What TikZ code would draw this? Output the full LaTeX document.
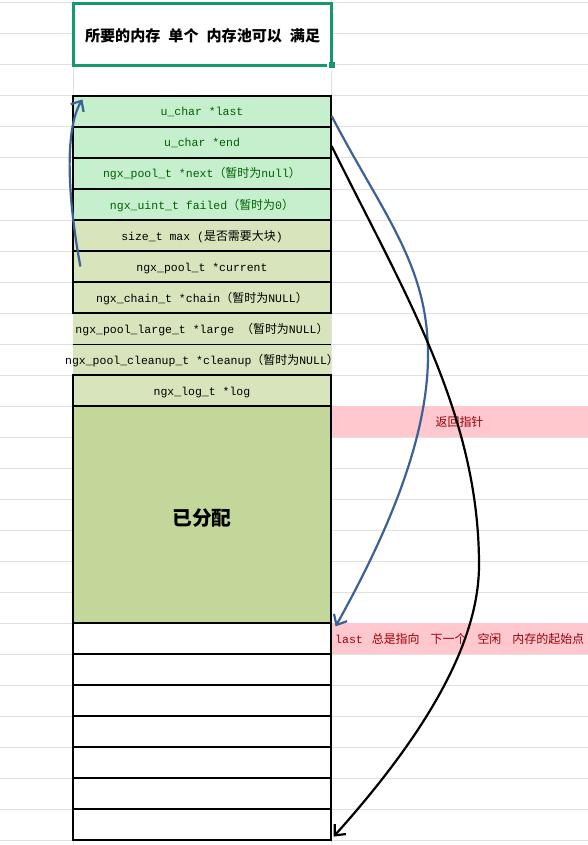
\documentclass[tikz,border=0pt]{standalone}
\usepackage{fontspec}
\setmainfont{Liberation Mono}
\newfontfamily\cjk[Scale=1.04]{Noto Sans CJK SC}
\usetikzlibrary{arrows.meta}
\definecolor{gridc}{RGB}{225,225,225}
\definecolor{goodbg}{RGB}{198,239,206}
\definecolor{goodfg}{RGB}{0,97,0}
\definecolor{olivebg}{RGB}{216,228,188}
\definecolor{allocbg}{RGB}{196,215,155}
\definecolor{badbg}{RGB}{255,199,206}
\definecolor{badfg}{RGB}{156,0,6}
\definecolor{selgreen}{RGB}{22,152,104}
\definecolor{arrowblue}{RGB}{60,97,148}
\newcommand\zh[1]{{\cjk #1}}
\begin{document}
\begin{tikzpicture}[x=1pt,y=-1pt,
  cellbase/.style={rectangle, minimum width=258pt, minimum height=31pt, inner sep=0pt,
     text height=9pt, text depth=0pt, font=\fontsize{11.5}{13}\selectfont},
  cell/.style={cellbase, draw=black, line width=1.2pt},
  goodcell/.style={cell, fill=goodbg, text=goodfg},
  olivecell/.style={cell, fill=olivebg},
  olivefill/.style={cellbase, fill=olivebg},
  plaintext/.style={inner sep=0pt, text height=9pt, text depth=0pt, font=\fontsize{11.5}{13}\selectfont},
  whitecell/.style={cell, fill=white},
  badband/.style={rectangle, minimum width=257pt, minimum height=31pt, inner sep=0pt, fill=badbg, text=badfg,
     font=\fontsize{11.5}{13}\selectfont},
  barrow/.style={draw=arrowblue, line width=2.2pt, -{Straight Barb[length=8.5pt,width=15pt]}},
  karrow/.style={draw=black, line width=2.2pt, -{Straight Barb[length=8.5pt,width=15pt]}},
  gridline/.style={draw=gridc, line width=1pt}
]
\useasboundingbox (0,0) rectangle (588,845);
\fill[white] (0,0) rectangle (588,845);
% spreadsheet grid
\foreach \y in {3,34,...,840} \draw[gridline] (0,\y) -- (588,\y);
\draw[gridline] (73,0) -- (73,845);
\draw[gridline] (331.5,0) -- (331.5,845);

% title cell
\node[rectangle, draw=selgreen, fill=white, line width=3pt, minimum width=258pt, minimum height=61.6pt, inner sep=0pt,
  text height=15pt, text depth=0pt,
  font=\cjk\bfseries\fontsize{14.5}{16}\selectfont] (title) at (202.6,34.5)
  {所要的内存\hspace{8pt}单个\hspace{8pt}内存池可以\hspace{8pt}满足};
\fill[white] (327.3,61.7) rectangle (336,70);
\fill[selgreen] (329,62.5) rectangle (334.5,68);

% pink bands
\node[badband] (ret) at (459.5,421.5) {\zh{返回指针}};
\node[badband] (lastband) at (459.5,638.5) {};
\node[plaintext, text=badfg, anchor=west] (lastnote) at (335,638.5)
  {last\hspace{9pt}\zh{总是指向}\hspace{11pt}\zh{下一个}\hspace{11pt}\zh{空闲}\hspace{11pt}\zh{内存的起始点}};

% rows without side borders
\node[olivefill] (r8) at (202,328.5) {};
\node[olivefill] (r9) at (202,359.5) {};
\node[plaintext] (r8t) at (r8.center) {ngx\_pool\_large\_t *large \zh{（暂时为}NULL\zh{）}};
\node[plaintext] (r9t) at (r9.center) {ngx\_pool\_cleanup\_t *cleanup\zh{（暂时为}NULL\zh{）}};
\draw[black, line width=1.2pt] (r8.south west) -- (r8.south east);

% bordered rows
\node[goodcell] (r1) at (202,111.5) {u\_char *last};
\node[goodcell] (r2) at (202,142.5) {u\_char *end};
\node[goodcell] (r3) at (202,173.5) {ngx\_pool\_t *next\zh{（暂时为}null\zh{）}};
\node[goodcell] (r4) at (202,204.5) {ngx\_uint\_t failed\zh{（暂时为}0\zh{）}};
\node[olivecell] (r5) at (202,235.5) {size\_t max (\zh{是否需要大块})};
\node[olivecell] (r6) at (202,266.5) {ngx\_pool\_t *current};
\node[olivecell] (r7) at (202,297.5) {ngx\_chain\_t *chain\zh{（暂时为}NULL\zh{）}};
\node[olivecell] (r10) at (202,390.5) {ngx\_log\_t *log};
\node[cell, fill=allocbg, minimum height=217pt, text height=22pt,
  font=\cjk\bfseries\fontsize{19}{20}\selectfont] (alloc) at (202,514.5) {已分配};
\node[whitecell] (w1) at (202,638.5) {};
\node[whitecell] (w2) at (202,669.5) {};
\node[whitecell] (w3) at (202,700.5) {};
\node[whitecell] (w4) at (202,731.5) {};
\node[whitecell] (w5) at (202,762.5) {};
\node[whitecell] (w6) at (202,793.5) {};
\node[whitecell] (w7) at (202,824.5) {};

% connectors
\draw[barrow] ([xshift=8pt]r6.west) .. controls (68,200) and (64,130) .. ([xshift=10pt,yshift=-4pt]r1.north west);
\draw[barrow] ([yshift=-4.5pt]r1.east) .. controls (384,216) and (428,265) .. (428,355)
   .. controls (428,435) and (391,527) .. ([xshift=4pt,yshift=-4pt]w1.north east);
\draw[karrow] ([yshift=-3.5pt]r2.east) .. controls (406,296) and (479,415) .. (479,565)
   .. controls (479,645) and (423,737) .. ([xshift=2pt,yshift=4pt]w7.south east);
\end{tikzpicture}
\end{document}
